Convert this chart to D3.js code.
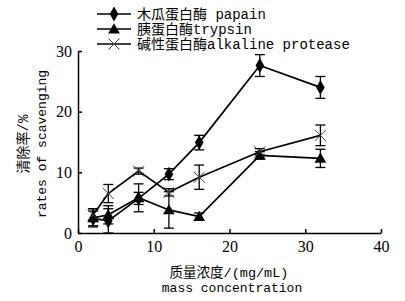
<!DOCTYPE html>
<html>
<head>
<meta charset="utf-8">
<script src="https://cdn.jsdelivr.net/npm/d3@7"></script>
<style>
  body { margin: 0; background: #fff; }
  svg { display: block; }
</style>
</head>
<body>
<svg id="chart" width="405" height="301"></svg>
<script>
var width = 405;
var height = 301;
var margin = { top: 51, right: 24, bottom: 68, left: 78 };

// concentration (mg/mL)
var conc = [2, 4, 8, 12, 16, 24, 32];
var papain = [2.4, 2.0, 5.7, 9.7, 14.9, 27.6, 24.0];
var papainErr = [1.2, 2.0, 1.0, 0.9, 1.2, 1.8, 1.8];
var trypsin = [2.5, 3.0, 5.8, 3.8, 2.7, 12.8, 12.3];
var trypsinErr = [1.5, 1.5, 2.3, 3.0, 0.6, 0.6, 1.5];
var alkaline = [3.0, 6.5, 10.2, 6.7, 9.2, 13.4, 16.1];
var alkalineErr = [1.0, 1.5, 0.5, 0.6, 2.0, 0.5, 1.7];

var xTicks = [0, 10, 20, 30, 40];
var yTicks = [0, 10, 20, 30];
var legendLabels = ["木瓜蛋白酶 papain", "胰蛋白酶trypsin", "碱性蛋白酶alkaline protease"];

var svg = d3.select("#chart");

var xScale = d3.scaleLinear()
    .domain([0, 40])
    .range([margin.left, width - margin.right]);

var yScale = d3.scaleLinear()
    .domain([0, 30])
    .range([height - margin.bottom, margin.top]);

var monoCJK = "'Liberation Mono', 'Noto Sans CJK SC', monospace";

var xAxis = d3.axisBottom(xScale).tickValues(xTicks).tickSizeInner(-4).tickSizeOuter(0).tickPadding(8);
var yAxis = d3.axisLeft(yScale).tickValues(yTicks).tickSizeInner(-4).tickSizeOuter(0).tickPadding(6);

var gx = svg.append("g")
    .attr("transform", `translate(0,${height - margin.bottom})`)
    .call(xAxis);
var gy = svg.append("g")
    .attr("transform", `translate(${margin.left},0)`)
    .call(yAxis);

[gx, gy].forEach(g => {
    g.selectAll("path, line").attr("stroke", "#000").attr("stroke-width", 1.5);
    g.selectAll("text")
        .style("font-family", "'Liberation Serif', serif")
        .style("font-size", "16px")
        .attr("fill", "#000");
});

var series = [
    { name: legendLabels[0], vals: papain, err: papainErr, marker: "diamond" },
    { name: legendLabels[1], vals: trypsin, err: trypsinErr, marker: "triangle" },
    { name: legendLabels[2], vals: alkaline, err: alkalineErr, marker: "cross" }
];

var line = d3.line()
    .x(d => xScale(d.x))
    .y(d => yScale(d.y));

function drawMarker(g, type, x, y) {
    if (type === "diamond") {
        g.append("path")
            .attr("d", d3.symbol(d3.symbolDiamond, 64)())
            .attr("transform", `translate(${x},${y})`)
            .attr("fill", "#000");
    } else if (type === "triangle") {
        g.append("path")
            .attr("d", d3.symbol(d3.symbolTriangle, 60)())
            .attr("transform", `translate(${x},${y + 1})`)
            .attr("fill", "#000");
    } else {
        g.append("path")
            .attr("d", d3.symbol(d3.symbolTimes, 80)())
            .attr("transform", `translate(${x},${y})`)
            .attr("fill", "none")
            .attr("stroke", "#444")
            .attr("stroke-width", 1);
    }
}

series.forEach(s => {
    var pts = conc.map((c, i) => ({ x: c, y: s.vals[i], e: s.err[i] }));
    var g = svg.append("g");

    g.append("path")
        .datum(pts)
        .attr("d", line)
        .attr("fill", "none")
        .attr("stroke", "#000")
        .attr("stroke-width", 1.7);

    // error bars
    pts.forEach(p => {
        var cx = xScale(p.x);
        var y1 = yScale(Math.max(0, p.y - p.e));
        var y2 = yScale(p.y + p.e);
        g.append("line").attr("x1", cx).attr("x2", cx).attr("y1", y1).attr("y2", y2)
            .attr("stroke", "#000").attr("stroke-width", 1.3);
        [y1, y2].forEach(yy => {
            g.append("line").attr("x1", cx - 5).attr("x2", cx + 5).attr("y1", yy).attr("y2", yy)
                .attr("stroke", "#000").attr("stroke-width", 1.3);
        });
    });

    pts.forEach(p => drawMarker(g, s.marker, xScale(p.x), yScale(p.y)));
});

// legend
var legend = svg.append("g");
series.forEach((s, i) => {
    var ly = 14 + i * 15;
    legend.append("line")
        .attr("x1", 97).attr("x2", 131).attr("y1", ly).attr("y2", ly)
        .attr("stroke", "#000").attr("stroke-width", 1.7);
    drawMarker(legend, s.marker, 114, ly);
    legend.append("text")
        .attr("x", 137)
        .attr("y", ly + 5)
        .style("font-family", monoCJK)
        .style("font-size", "14px")
        .attr("fill", "#000")
        .text(s.name);
});

// axis titles
svg.append("text")
    .attr("transform", "translate(28,144) rotate(-90)")
    .attr("text-anchor", "middle")
    .style("font-family", monoCJK)
    .style("font-size", "14px")
    .text("清除率/%");
svg.append("text")
    .attr("transform", "translate(46,144) rotate(-90)")
    .attr("text-anchor", "middle")
    .style("font-family", monoCJK)
    .style("font-size", "13px")
    .text("rates of scavenging");

svg.append("text")
    .attr("x", 229)
    .attr("y", 277)
    .attr("text-anchor", "middle")
    .style("font-family", monoCJK)
    .style("font-size", "13.5px")
    .text("质量浓度/(mg/mL)");
svg.append("text")
    .attr("x", 232)
    .attr("y", 292)
    .attr("text-anchor", "middle")
    .style("font-family", monoCJK)
    .style("font-size", "13px")
    .text("mass concentration");
</script>
</body>
</html>
